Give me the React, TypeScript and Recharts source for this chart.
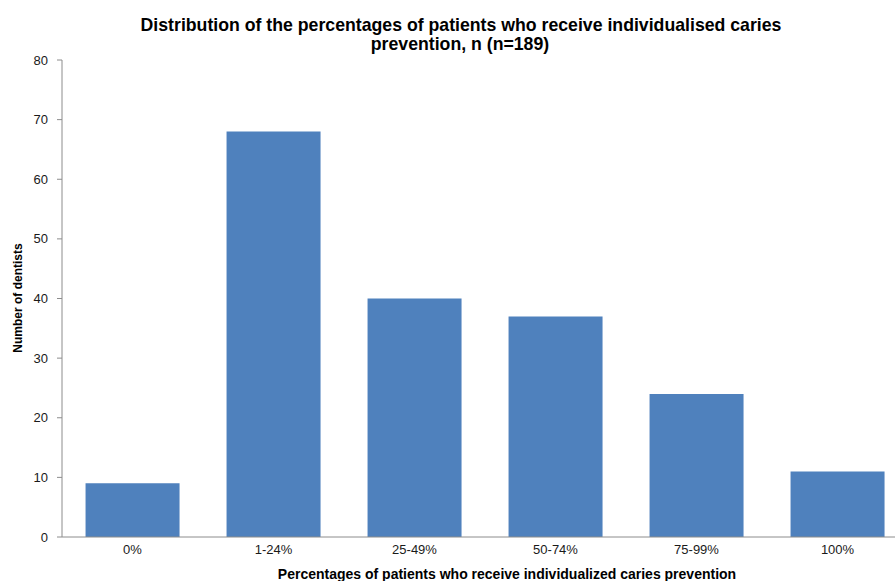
import { Bar, BarChart, XAxis, YAxis } from "recharts";

const categories = ["0%", "1-24%", "25-49%", "50-74%", "75-99%", "100%"];
const dentists = [9, 68, 40, 37, 24, 11];
const yTicks = [0, 10, 20, 30, 40, 50, 60, 70, 80];

const titleLines = [
  "Distribution of the percentages of patients who receive individualised caries",
  "prevention, n (n=189)",
];
const xTitle = "Percentages of patients who receive individualized caries prevention";
const yTitle = "Number of dentists";

const data = categories.map((name, i) => ({ name, value: dentists[i] }));

const font = "'Liberation Sans', Arial, sans-serif";
const axisColor = "#8c8c8c";

export default function App() {
  return (
    <div
      style={{
        position: "absolute",
        left: 0,
        top: 0,
        width: 895,
        height: 581,
        overflow: "hidden",
        background: "#fff",
        fontFamily: font,
      }}
    >
      <BarChart
        width={920}
        height={581}
        data={data}
        margin={{ top: 60, right: 12, bottom: 0, left: 0 }}
        barCategoryGap="16.7%"
      >
        <XAxis
          dataKey="name"
          height={44}
          tickLine={false}
          tickSize={0}
          tickMargin={8}
          axisLine={{ stroke: axisColor }}
          tick={{ fontSize: 13, fill: "#1a1a1a", fontFamily: font }}
        />
        <YAxis
          width={62}
          domain={[0, 80]}
          ticks={yTicks}
          interval={0}
          tickSize={5}
          tickMargin={9}
          axisLine={{ stroke: axisColor }}
          tickLine={{ stroke: axisColor }}
          tick={{ fontSize: 13, fill: "#1a1a1a", fontFamily: font }}
        />
        <Bar dataKey="value" fill="#4f81bd" isAnimationActive={false} />
      </BarChart>
      <svg
        width={895}
        height={581}
        style={{ position: "absolute", left: 0, top: 0, pointerEvents: "none" }}
      >
        <text x={461} y={31} textAnchor="middle" fontSize={17.7} fontWeight="bold" fontFamily={font} fill="#000">
          {titleLines[0]}
        </text>
        <text x={460} y={50} textAnchor="middle" fontSize={17.7} fontWeight="bold" fontFamily={font} fill="#000">
          {titleLines[1]}
        </text>
        <text
          x={22}
          y={298}
          transform="rotate(-90 22 298)"
          textAnchor="middle"
          fontSize={12}
          fontWeight="bold"
          fontFamily={font}
          fill="#000"
        >
          {yTitle}
        </text>
        <text x={507} y={579} textAnchor="middle" fontSize={14} fontWeight="bold" fontFamily={font} fill="#000">
          {xTitle}
        </text>
      </svg>
    </div>
  );
}
